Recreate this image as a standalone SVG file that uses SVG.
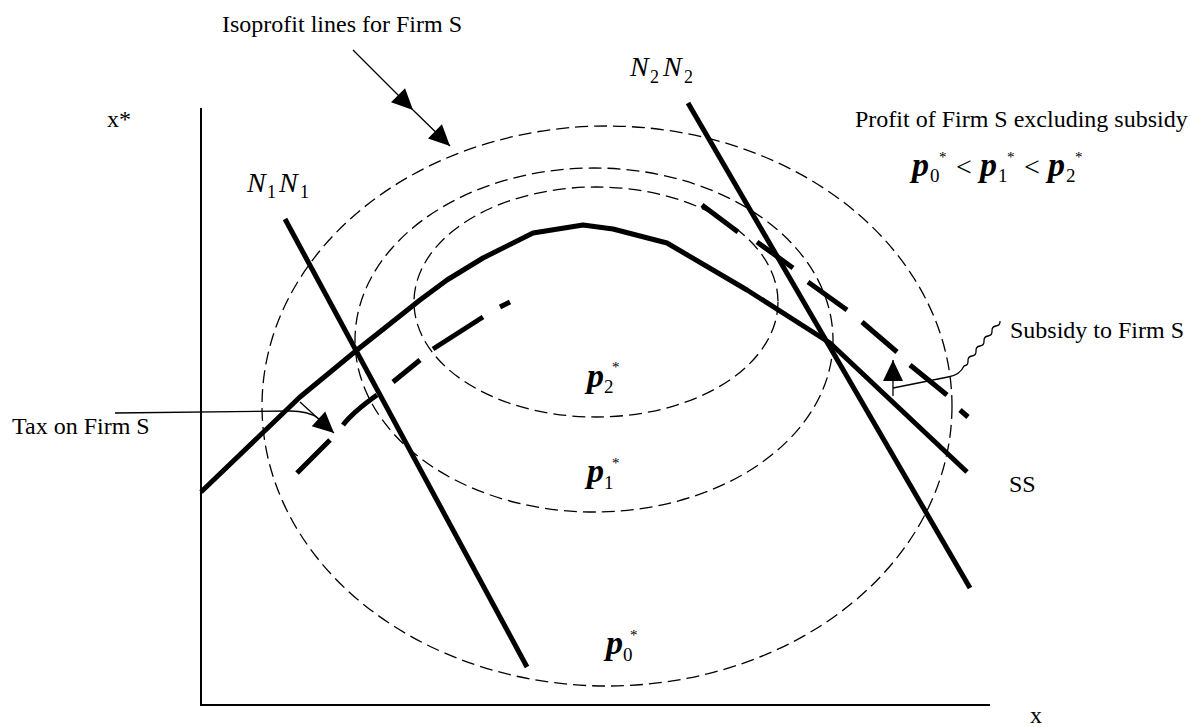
<svg xmlns="http://www.w3.org/2000/svg" width="1190" height="727" viewBox="0 0 1190 727">
<style>
text{font-family:"Liberation Serif","Times New Roman",serif;fill:#000}
.lbl{font-size:24px}
.pi{font-size:34px;font-weight:bold;font-style:italic}
.sub{font-size:19px}
.ast{font-size:15px}
.lt{font-size:28px}
.nn{font-size:28px;font-style:italic}
.nsub{font-size:18px}
.iso{fill:none;stroke:#000;stroke-width:1.3;stroke-dasharray:13 6}
.thick{fill:none;stroke:#000;stroke-width:5;stroke-linecap:butt}
.thin{fill:none;stroke:#000;stroke-width:1.3}
.axis{fill:none;stroke:#000;stroke-width:2}
</style>
<defs>
<marker id="ah" markerUnits="userSpaceOnUse" markerWidth="24" markerHeight="24" viewBox="-22 -11 24 22" refX="0" refY="0" orient="auto">
<path d="M0,0 L-21,-10 L-21,10 Z" fill="#000"/>
</marker>
</defs>
<rect width="1190" height="727" fill="#fff"/>

<g id="axes">
<path class="axis" d="M201,108 L201,705 L990,705"/>
<text class="lbl" x="107" y="127">x*</text>
<text class="lbl" x="1030" y="723">x</text>
</g>

<g id="isoprofit-p0">
<ellipse class="iso" cx="607" cy="406" rx="345" ry="280"/>
<text x="606" y="654"><tspan class="pi">p</tspan><tspan class="sub" x="623" y="661">0</tspan><tspan class="ast" x="630" y="640">*</tspan></text>
</g>
<g id="isoprofit-p1">
<ellipse class="iso" cx="594" cy="340" rx="239" ry="172"/>
<text x="587" y="482"><tspan class="pi">p</tspan><tspan class="sub" x="604" y="489">1</tspan><tspan class="ast" x="612" y="468">*</tspan></text>
</g>
<g id="isoprofit-p2">
<ellipse class="iso" cx="596" cy="302" rx="182" ry="115"/>
<text x="587" y="387"><tspan class="pi">p</tspan><tspan class="sub" x="604" y="393">2</tspan><tspan class="ast" x="612" y="372">*</tspan></text>
</g>

<g id="N1N1">
<path class="thick" d="M285,219 L527,667"/>
<text x="247" y="192"><tspan class="nn">N</tspan><tspan class="nsub" x="267" y="198">1</tspan><tspan class="nn" x="279" y="192">N</tspan><tspan class="nsub" x="300" y="198">1</tspan></text>
</g>

<g id="N2N2">
<path class="thick" d="M688,103 L970,588"/>
<text x="630" y="76"><tspan class="nn">N</tspan><tspan class="nsub" x="650" y="83">2</tspan><tspan class="nn" x="663" y="76">N</tspan><tspan class="nsub" x="684" y="83">2</tspan></text>
</g>

<g id="SS">
<path class="thick" stroke-linejoin="round" d="M201,492 L300,397 L357,350 L420,300 L447,280 L483,258 L533,233 L583,225 L613,229 L667,243 L747,290 L830,343 L967,472"/>
<text class="lbl" x="1009" y="492">SS</text>
</g>

<g id="SS-tax">
<path class="thick" d="M297,473 L330,440 M343,425 Q353,412 377,395 M393,382 L420,360 M433,349 L483,317 M500,307 L510,302"/>
</g>

<g id="SS-subsidy">
<path class="thick" d="M702,205 L738,232 M757,242 L793,268 M808,282 L847,310 M862,322 L897,352 M910,365 L947,395 M960,410 L968,417"/>
</g>

<g id="label-isoprofit">
<text class="lbl" x="222" y="32">Isoprofit lines for Firm S</text>
</g>
<g id="label-profit">
<text class="lbl" x="855" y="127">Profit of Firm S excluding subsidy</text>
<text x="912" y="176"><tspan class="pi">p</tspan><tspan class="sub" x="930" y="182">0</tspan><tspan class="ast" x="939" y="162">*</tspan><tspan class="lt" x="956" y="176">&lt;</tspan><tspan class="pi" x="980" y="176">p</tspan><tspan class="sub" x="998" y="182">1</tspan><tspan class="ast" x="1007" y="162">*</tspan><tspan class="lt" x="1024" y="176">&lt;</tspan><tspan class="pi" x="1048" y="176">p</tspan><tspan class="sub" x="1066" y="182">2</tspan><tspan class="ast" x="1075" y="162">*</tspan></text>
</g>
<g id="label-tax">
<text class="lbl" x="12" y="434">Tax on Firm S</text>
</g>
<g id="label-subsidy">
<text class="lbl" x="1010" y="338">Subsidy to Firm S</text>
</g>

<g id="connectors">
<path class="thin" d="M353,50 L413,110 L450,146" marker-mid="url(#ah)" marker-end="url(#ah)"/>
<path class="thin" d="M300,402 L334,433" marker-end="url(#ah)"/>
<path class="thin" d="M115,413 L290,411 Q308,411 318,418"/>
<path class="thin" d="M893,396 L893,360" marker-end="url(#ah)"/>
<path class="thin" d="M893,388 L948,377 Q960,375 964,366 q4.3,-0.6 4,-5 q-0.3,-4.4 4,-5 q4.3,-0.6 4,-5 q-0.3,-4.4 4,-5 q4.3,-0.6 4,-5 q-0.3,-4.4 4,-5 q4.3,-0.6 4,-5 q-0.3,-4.4 4,-5 q4.3,-0.6 4,-5"/>
</g>
</svg>
